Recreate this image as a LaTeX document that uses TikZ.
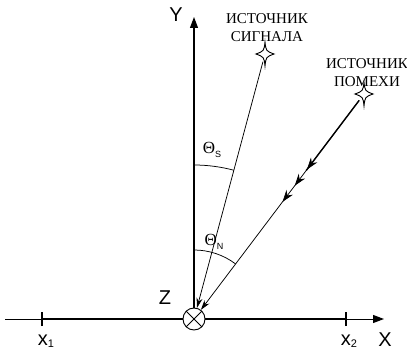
\documentclass[tikz,border=0pt]{standalone}
\usepackage{fontspec}
\setmainfont{Liberation Serif}
\newfontfamily\axfont{Liberation Sans}
\usetikzlibrary{arrows.meta,decorations.markings,calc}
\begin{document}
\begin{tikzpicture}[x=1pt,y=1pt,
  axisline/.style={line width=1.1pt},
  ray/.style={line width=0.75pt},
  srclab/.style={font=\fontsize{15}{18}\selectfont, align=center, inner sep=0pt, anchor=base},
  axlab/.style={font=\axfont\fontsize{20}{22}\selectfont, inner sep=0pt},
  anglab/.style={font=\fontsize{17}{18}\selectfont, inner sep=0pt},
  starshape/.style={line width=0.9pt, fill=white},
  tip/.style={-{Stealth[length=10pt,width=6pt]}}
]
\useasboundingbox (0,0) rectangle (407,351);
% coordinates
\coordinate (xl) at (5,32);
\coordinate (xr) at (384,32);
\coordinate (t1) at (42,32);
\coordinate (t2) at (346,32);
\coordinate (ytip) at (194,334);
\coordinate (s) at (265,297);
\coordinate (n) at (364,257);
% X axis
\draw[line width=1pt,-{Triangle[length=11pt,width=8pt]}] (xl) -- (xr);
\draw[line width=2.3pt] (t1) -- (t2);
\draw[line width=1.5pt] ([yshift=-7pt]t1) -- ([yshift=7pt]t1);
\draw[line width=1.5pt] ([yshift=-7pt]t2) -- ([yshift=7pt]t2);
% sensor
\node[circle, draw, line width=0.9pt, fill=white, minimum size=22pt, inner sep=0pt] (z) at (194,32) {};
\draw[line width=0.9pt] (z.north east) -- (z.south west);
\draw[line width=0.9pt] (z.north west) -- (z.south east);
% Y axis
\draw[axisline,-{Triangle[length=11pt,width=8pt]}] (z.north) -- (ytip);
% angle arcs
\draw[ray] ($(z.center)+(0,154)$) arc[start angle=90, end angle=75, radius=154];
\draw[ray] ($(z.center)+(0,69)$) arc[start angle=90, end angle=52.9, radius=69];
% signal ray
\draw[ray,tip,shorten <=8pt] (s) -- (z);
% noise ray
\draw[line width=1.4pt, shorten <=8pt] (n) -- ($(n)!0.34!(z)$);
\draw[ray,tip,shorten <=8pt,
  postaction={decorate},
  decoration={markings,
    mark=at position 0.35 with {\arrow{Stealth[length=12pt,width=8pt]}},
    mark=at position 0.425 with {\arrow{Stealth[length=12pt,width=8pt]}},
    mark=at position 0.50 with {\arrow{Stealth[length=12pt,width=8pt]}}}] (n) -- (z);
% stars
\foreach \c in {s,n}{
  \draw[starshape] ($(\c)+(0,12)$) .. controls ($(\c)+(1,3)$) .. ($(\c)+(9,0)$)
    .. controls ($(\c)+(1,-3)$) .. ($(\c)+(0,-12)$)
    .. controls ($(\c)+(-1,-3)$) .. ($(\c)+(-9,0)$)
    .. controls ($(\c)+(-1,3)$) .. cycle;
}
% labels
\node[srclab] (sl) at (267,309) {ИСТОЧНИК\\СИГНАЛА};
\node[srclab] (nl) at (367,264) {ИСТОЧНИК\\ПОМЕХИ};
\node[axlab] (ly) at (176,336) {Y};
\node[axlab] (lz) at (165,53) {Z};
\node[axlab] (lx) at (385,11) {X};
\node[axlab] (lx1) at (46,10) {x{\fontsize{11}{12}\selectfont\raisebox{-2pt}{1}}};
\node[axlab] (lx2) at (349,10) {x{\fontsize{11}{12}\selectfont\raisebox{-2pt}{2}}};
\node[anglab] (ths) at (212,201) {Θ\raisebox{-3.5pt}{\axfont\fontsize{9}{10}\selectfont S}};
\node[anglab] (thn) at (214,109) {Θ\raisebox{-3.5pt}{\axfont\fontsize{9}{10}\selectfont N}};
\end{tikzpicture}
\end{document}
